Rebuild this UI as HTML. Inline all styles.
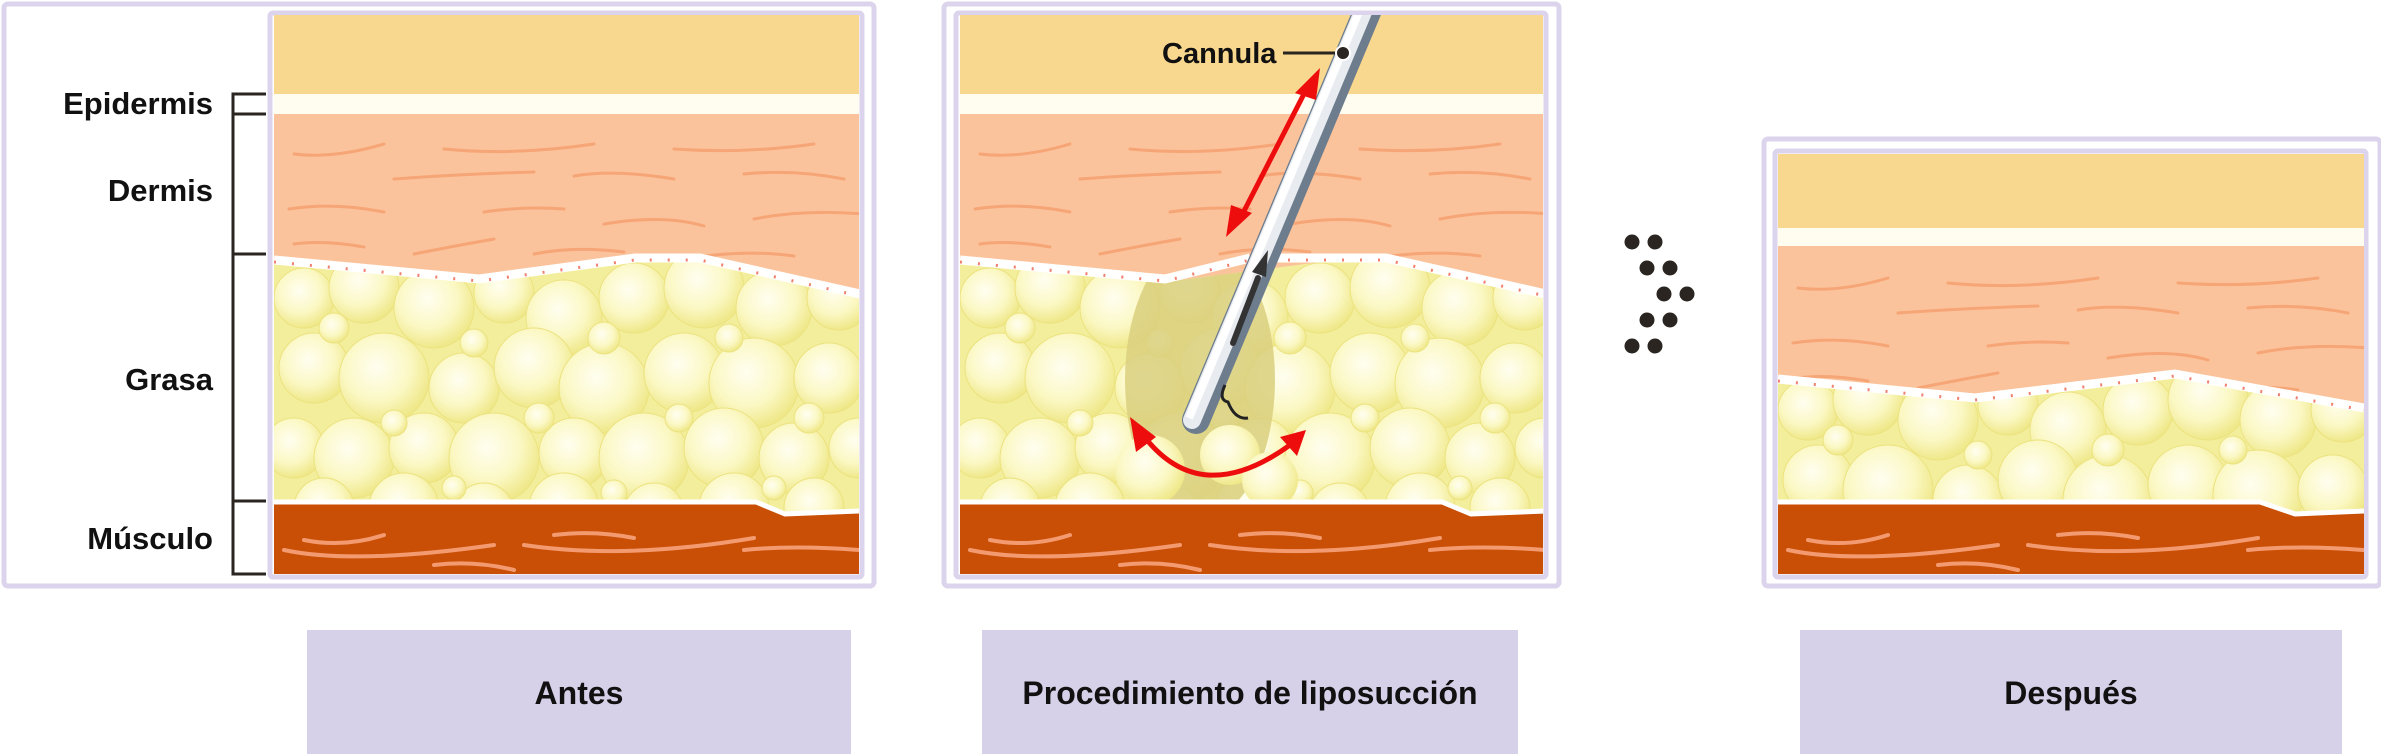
<!DOCTYPE html>
<html><head><meta charset="utf-8"><style>
html,body{margin:0;padding:0;background:#fff;}
svg{display:block;}
text{font-family:"Liberation Sans",sans-serif;font-weight:bold;fill:#111;}
</style></head><body>
<svg width="2381" height="755" viewBox="0 0 2381 755" xmlns="http://www.w3.org/2000/svg">
<defs>
<radialGradient id="bub" cx="0.42" cy="0.38" r="0.62">
<stop offset="0" stop-color="#fffef0"/><stop offset="0.6" stop-color="#fbf8c4"/><stop offset="1" stop-color="#efe88a"/>
</radialGradient>
<g id="bubbles">
<rect x="0" y="0" width="600" height="270" fill="#f3ee9c"/>
<g fill="url(#bub)" stroke="#ece27e" stroke-width="1">
<circle cx="30" cy="40" r="30"/><circle cx="90" cy="30" r="35"/><circle cx="160" cy="50" r="40"/><circle cx="230" cy="35" r="30"/><circle cx="290" cy="60" r="38"/><circle cx="360" cy="40" r="35"/><circle cx="430" cy="30" r="40"/><circle cx="500" cy="50" r="38"/><circle cx="565" cy="40" r="32"/>
<circle cx="40" cy="110" r="35"/><circle cx="110" cy="120" r="45"/><circle cx="190" cy="130" r="35"/><circle cx="260" cy="110" r="40"/><circle cx="330" cy="130" r="45"/><circle cx="410" cy="115" r="40"/><circle cx="480" cy="125" r="45"/><circle cx="555" cy="120" r="35"/>
<circle cx="20" cy="190" r="30"/><circle cx="80" cy="200" r="40"/><circle cx="150" cy="190" r="35"/><circle cx="220" cy="200" r="45"/><circle cx="300" cy="195" r="35"/><circle cx="370" cy="200" r="45"/><circle cx="450" cy="190" r="40"/><circle cx="520" cy="200" r="35"/><circle cx="585" cy="190" r="30"/>
<circle cx="50" cy="250" r="30"/><circle cx="130" cy="250" r="35"/><circle cx="210" cy="255" r="30"/><circle cx="290" cy="250" r="35"/><circle cx="380" cy="255" r="30"/><circle cx="460" cy="250" r="35"/><circle cx="540" cy="250" r="30"/>
<circle cx="60" cy="70" r="15"/><circle cx="200" cy="85" r="14"/><circle cx="330" cy="80" r="16"/><circle cx="455" cy="80" r="14"/><circle cx="120" cy="165" r="13"/><circle cx="265" cy="160" r="15"/><circle cx="405" cy="160" r="14"/><circle cx="535" cy="160" r="15"/><circle cx="180" cy="230" r="12"/><circle cx="340" cy="235" r="13"/><circle cx="500" cy="230" r="12"/>
</g>
</g>
<g id="streaks" fill="none" stroke="#f6a576" stroke-width="3" stroke-linecap="round">
<path d="M20 40 Q60 45 110 30"/><path d="M170 35 Q240 42 320 30"/><path d="M400 35 Q470 40 540 30"/>
<path d="M120 65 Q190 60 260 58"/><path d="M300 62 Q340 55 400 65"/><path d="M470 60 Q520 55 570 65"/>
<path d="M15 95 Q60 88 110 98"/><path d="M210 98 Q250 92 290 95"/><path d="M330 110 Q390 100 430 112"/><path d="M480 105 Q530 95 590 100"/>
<path d="M20 130 Q50 126 90 133"/><path d="M140 140 Q180 132 220 125"/><path d="M260 140 Q300 132 350 138"/><path d="M410 145 Q470 135 520 142"/>
</g>
<g id="mstreaks" fill="none" stroke="#f39a70" stroke-width="4" stroke-linecap="round">
<path d="M10 30 Q80 45 220 25"/><path d="M30 20 Q70 28 110 15"/><path d="M250 25 Q350 40 480 18"/><path d="M280 15 Q320 10 360 18"/><path d="M470 30 Q520 25 585 30"/><path d="M160 45 Q200 40 240 50"/>
</g>
<clipPath id="f1"><path d="M274 262 L479 282 L635 262 L700 262 L860 298 L860 510 L785 513 L756 501 L274 503 Z"/></clipPath>
<clipPath id="f2"><path d="M960 262 L1165 282 L1321 262 L1386 262 L1546 298 L1546 510 L1471 513 L1442 501 L960 503 Z"/></clipPath>
<clipPath id="f3"><path d="M1778 382 L1975 401 L2175 377 L2364 411 L2364 510 L2295 513 L2260 501 L1778 503 Z"/></clipPath>
<clipPath id="c1"><rect x="274" y="15" width="585" height="559"/></clipPath>
<clipPath id="c2"><rect x="960" y="15" width="583" height="559"/></clipPath>
<clipPath id="c3"><rect x="1778" y="154" width="586" height="420"/></clipPath>
</defs>

<!-- Panel 1 -->
<rect x="4" y="4" width="870" height="582" rx="4" fill="#fff" stroke="#dbd4ec" stroke-width="5"/>
<rect x="270" y="13" width="592" height="564" rx="3" fill="#fff" stroke="#dbd4ec" stroke-width="5"/>
<g clip-path="url(#c1)">
<rect x="274" y="15" width="585" height="80" fill="#f8d78e"/>
<rect x="274" y="94" width="585" height="20" fill="#fffcf0"/>
<rect x="274" y="114" width="585" height="200" fill="#fbc39b"/>
<use href="#streaks" x="274" y="114"/>
<g clip-path="url(#f1)"><use href="#bubbles" x="274" y="258"/></g>
<path d="M274 260 L479 279 L635 258 L700 258 L860 294" fill="none" stroke="#fff" stroke-width="9"/>
<path d="M274 262 L479 281 L635 260 L700 260 L860 296" fill="none" stroke="#f08070" stroke-width="3" stroke-dasharray="2 16"/>
<path d="M274 503 L756 503 L785 515 L860 512 L860 580 L274 580 Z" fill="#c84f05"/>
<path d="M274 502 L756 502 L785 514 L860 511" fill="none" stroke="#fff" stroke-width="5"/>
<use href="#mstreaks" x="274" y="520"/>
</g>
<g stroke="#2a2520" stroke-width="3" fill="none">
<path d="M266 94 H233 V114 H266"/><path d="M233 114 V254 H266"/><path d="M233 254 V501 H266"/><path d="M233 501 V574 H266"/>
</g>
<text x="213" y="114" font-size="31" text-anchor="end">Epidermis</text>
<text x="213" y="201" font-size="31" text-anchor="end">Dermis</text>
<text x="213" y="390" font-size="31" text-anchor="end">Grasa</text>
<text x="213" y="549" font-size="31" text-anchor="end">Músculo</text>

<!-- Panel 2 -->
<rect x="944" y="4" width="615" height="582" rx="4" fill="#fff" stroke="#dbd4ec" stroke-width="5"/>
<rect x="956" y="13" width="590" height="564" rx="3" fill="#fff" stroke="#dbd4ec" stroke-width="5"/>
<g clip-path="url(#c2)">
<rect x="960" y="15" width="583" height="80" fill="#f8d78e"/>
<rect x="960" y="94" width="583" height="20" fill="#fffcf0"/>
<rect x="960" y="114" width="583" height="200" fill="#fbc39b"/>
<use href="#streaks" x="960" y="114"/>
<g clip-path="url(#f2)">
<use href="#bubbles" x="960" y="258"/>
<ellipse cx="1200" cy="380" rx="75" ry="140" fill="#d9cf7e" opacity="0.85"/>
<circle cx="1230" cy="455" r="30" fill="url(#bub)"/><circle cx="1150" cy="470" r="35" fill="url(#bub)"/><circle cx="1270" cy="480" r="28" fill="url(#bub)"/>
</g>
<path d="M960 260 L1165 279 L1250 258 M1270 258 L1321 258 L1386 258 L1546 294" fill="none" stroke="#fff" stroke-width="9"/>
<path d="M960 262 L1165 281 L1250 260 M1270 260 L1321 260 L1386 260 L1546 296" fill="none" stroke="#f08070" stroke-width="3" stroke-dasharray="2 16"/>
<path d="M960 503 L1442 503 L1471 515 L1546 512 L1546 580 L960 580 Z" fill="#c84f05"/>
<path d="M960 502 L1442 502 L1471 514 L1546 511" fill="none" stroke="#fff" stroke-width="5"/>
<use href="#mstreaks" x="960" y="520"/>
<line x1="1372" y1="0" x2="1196" y2="420" stroke="#6e7d8e" stroke-width="28" stroke-linecap="round"/>
<line x1="1368" y1="0" x2="1192" y2="420" stroke="#e8ecf0" stroke-width="18" stroke-linecap="round"/>
<line x1="1364" y1="0" x2="1189" y2="418" stroke="#ffffff" stroke-width="8"/>
<line x1="1233" y1="343" x2="1258" y2="278" stroke="#333" stroke-width="6" stroke-linecap="round"/>
<path d="M1268 250 L1252 272 L1266 277 Z" fill="#333"/>
<path d="M1225 385 Q1218 400 1228 402 Q1235 420 1248 418" fill="none" stroke="#222" stroke-width="3"/>
</g>
<g stroke="#ee0d0d" stroke-width="5" fill="none">
<line x1="1306" y1="90" x2="1242" y2="215"/>
<path d="M1143 435 Q1200 510 1290 445"/>
</g>
<g fill="#ee0d0d">
<path d="M1320 68 L1295 93 L1316 100 Z"/>
<path d="M1226 237 L1231 205 L1252 213 Z"/>
<path d="M1130 417 L1136 452 L1156 437 Z"/>
<path d="M1306 430 L1280 437 L1297 456 Z"/>
</g>
<text x="1162" y="63" font-size="29" fill="#2a2520">Cannula</text>
<line x1="1283" y1="53" x2="1340" y2="53" stroke="#2a2520" stroke-width="3"/>
<circle cx="1343" cy="53" r="7" fill="#2a2520" stroke="#fff" stroke-width="2"/>

<g fill="#2a2520">
<circle cx="1632" cy="242" r="7.5"/><circle cx="1655" cy="242" r="7.5"/>
<circle cx="1647" cy="268" r="7.5"/><circle cx="1670" cy="268" r="7.5"/>
<circle cx="1664" cy="294" r="7.5"/><circle cx="1687" cy="294" r="7.5"/>
<circle cx="1647" cy="320" r="7.5"/><circle cx="1670" cy="320" r="7.5"/>
<circle cx="1632" cy="346" r="7.5"/><circle cx="1655" cy="346" r="7.5"/>
</g>

<!-- Panel 3 -->
<rect x="1764" y="139" width="616" height="447" rx="4" fill="#fff" stroke="#dbd4ec" stroke-width="5"/>
<rect x="1775" y="151" width="591" height="426" rx="3" fill="#fff" stroke="#dbd4ec" stroke-width="5"/>
<g clip-path="url(#c3)">
<rect x="1778" y="154" width="586" height="74" fill="#f8d78e"/>
<rect x="1778" y="228" width="586" height="18" fill="#fffcf0"/>
<rect x="1778" y="246" width="586" height="180" fill="#fbc39b"/>
<use href="#streaks" x="1778" y="248"/>
<g clip-path="url(#f3)"><use href="#bubbles" x="1778" y="370"/></g>
<path d="M1778 379 L1975 398 L2175 374 L2364 408" fill="none" stroke="#fff" stroke-width="9"/>
<path d="M1778 381 L1975 400 L2175 376 L2364 410" fill="none" stroke="#f08070" stroke-width="3" stroke-dasharray="2 16"/>
<path d="M1778 503 L2260 503 L2295 515 L2364 512 L2364 580 L1778 580 Z" fill="#c84f05"/>
<path d="M1778 502 L2260 502 L2295 514 L2364 511" fill="none" stroke="#fff" stroke-width="5"/>
<use href="#mstreaks" x="1778" y="520"/>
</g>

<rect x="307" y="630" width="544" height="124" fill="#d6d0e8"/>
<rect x="982" y="630" width="536" height="124" fill="#d6d0e8"/>
<rect x="1800" y="630" width="542" height="124" fill="#d6d0e8"/>
<text x="579" y="704" font-size="32" text-anchor="middle">Antes</text>
<text x="1250" y="704" font-size="32" text-anchor="middle">Procedimiento de liposucción</text>
<text x="2071" y="704" font-size="32" text-anchor="middle">Después</text>
</svg>
</body></html>
